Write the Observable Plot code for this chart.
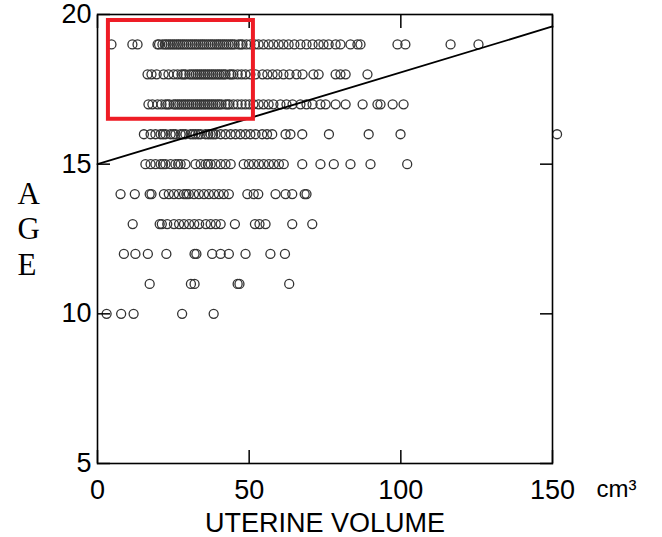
<!DOCTYPE html>
<html>
<head>
<meta charset="utf-8">
<script src="https://cdn.jsdelivr.net/npm/d3@7"></script>
<script src="https://cdn.jsdelivr.net/npm/@observablehq/plot@0.6"></script>
<style>
  body { margin: 0; background: #fff; }
  #chart svg { display: block; }
</style>
</head>
<body>
<div id="chart"></div>
<script>
// Uterine volume (cm³) readings, one array per age (years)
const vol19 = [4.6, 11.5, 13.2, 19.8, 20.3, 21.4, 22.2, 22.8, 23.5, 24.1, 24.8, 25.4, 26.1, 26.7, 27.3, 28.0, 28.6, 29.3, 30.0, 30.7, 31.3, 32.0, 32.6, 33.3, 34.0, 34.6, 35.2, 35.9, 36.6, 37.3, 37.9, 38.6, 39.3, 39.9, 40.5, 41.2, 41.8, 42.5, 43.2, 43.9, 44.5, 45.2, 46.5, 47.2, 47.8, 49.1, 50.4, 51.8, 53.1, 54.7, 56.4, 58.0, 59.7, 61.3, 63.0, 64.9, 66.9, 68.9, 70.9, 72.9, 74.5, 76.2, 78.5, 80.1, 83.4, 85.7, 86.7, 98.9, 101.5, 116.4, 125.6];
const vol18 = [16.5, 17.8, 19.5, 21.8, 23.4, 25.1, 26.4, 27.7, 28.4, 29.0, 30.3, 31.0, 31.7, 32.4, 33.0, 33.7, 34.3, 35.0, 35.6, 36.3, 36.9, 37.6, 38.2, 38.9, 39.6, 40.2, 40.9, 41.6, 42.2, 43.5, 44.1, 44.8, 46.2, 47.5, 48.8, 50.4, 52.1, 54.4, 56.0, 57.7, 59.3, 61.3, 63.3, 65.6, 67.6, 71.2, 72.9, 78.5, 80.1, 81.8, 89.0];
const vol17 = [16.8, 18.1, 19.8, 21.1, 22.4, 23.1, 23.7, 25.1, 25.7, 26.4, 27.0, 27.7, 28.4, 29.0, 29.7, 30.3, 31.0, 31.7, 32.4, 33.0, 33.7, 34.3, 35.0, 35.6, 36.3, 36.9, 37.6, 38.2, 38.9, 39.6, 40.2, 40.9, 42.2, 42.9, 43.5, 44.8, 46.2, 47.5, 48.8, 50.1, 51.4, 53.1, 54.7, 56.4, 58.0, 60.3, 62.3, 64.3, 66.9, 68.9, 70.9, 73.5, 75.2, 78.5, 81.8, 87.4, 92.3, 93.3, 97.3, 100.9];
const vol16 = [15.3, 17.5, 19.1, 20.8, 21.6, 22.4, 24.1, 25.0, 25.7, 27.4, 28.2, 29.0, 30.7, 31.5, 32.3, 33.2, 34.0, 35.6, 36.5, 37.3, 38.1, 38.9, 40.6, 42.2, 43.9, 45.5, 47.1, 48.8, 50.4, 52.1, 54.3, 55.9, 57.6, 62.0, 63.6, 67.5, 76.3, 89.4, 99.9, 151.5];
const vol15 = [15.8, 17.5, 19.1, 20.8, 21.6, 22.4, 24.1, 25.7, 26.6, 27.4, 29.0, 32.3, 34.0, 35.6, 36.4, 37.3, 38.9, 40.6, 42.2, 43.9, 48.2, 49.9, 51.5, 53.2, 54.8, 56.5, 58.1, 59.8, 61.4, 67.5, 73.5, 77.9, 83.4, 90.0, 102.1];
const vol14 = [7.6, 12.3, 17.2, 17.8, 21.9, 23.5, 25.2, 26.8, 28.5, 29.3, 30.1, 31.8, 33.4, 35.1, 36.7, 38.4, 40.0, 41.6, 43.3, 49.4, 51.5, 53.0, 58.7, 62.0, 64.2, 68.3, 68.9];
const vol13 = [11.6, 20.5, 21.2, 23.0, 25.2, 26.9, 28.5, 30.2, 31.9, 33.5, 35.7, 37.3, 39.0, 40.6, 45.3, 51.9, 53.4, 55.4, 64.2, 70.8];
const vol12 = [8.7, 12.5, 16.6, 22.7, 32.0, 32.6, 37.8, 40.6, 43.3, 48.8, 57.0, 61.8];
const vol11 = [17.2, 30.8, 32.0, 46.2, 46.8, 63.2];
const vol10 = [3.0, 7.8, 11.9, 27.9, 38.3];

const ages = [19, 18, 17, 16, 15, 14, 13, 12, 11, 10];
const volumesByAge = [vol19, vol18, vol17, vol16, vol15, vol14, vol13, vol12, vol11, vol10];

// Regression line end points
const fitX = [0, 150];
const fitY = [15.0, 19.6];

// Highlight box (red annotation)
const boxX = [3.6, 51.4];
const boxY = [16.5, 19.8];

const xTicks = [0, 50, 100, 150];
const yTicks = [5, 10, 15, 20];
const xTitle = "UTERINE VOLUME";
const yTitle = "A\nG\nE";
const unitText = "cm³";

const points = [];
ages.forEach((a, i) => volumesByAge[i].forEach(v => points.push({volume: v, age: a})));
const fit = fitX.map((x, i) => ({x, y: fitY[i]}));
const box = [{x1: boxX[0], x2: boxX[1], y1: boxY[0], y2: boxY[1]}];

const chart = Plot.plot({
  width: 662,
  height: 537,
  marginLeft: 97,
  marginRight: 110,
  marginTop: 14,
  marginBottom: 74,
  style: {fontFamily: "'Liberation Sans', Arial, sans-serif", color: "#000", background: "#fff"},
  x: {domain: [0, 150]},
  y: {domain: [5, 20]},
  marks: [
    Plot.dot(points, {x: "volume", y: "age", r: 4.5, stroke: "#333", strokeWidth: 1.3, fill: "none"}),
    Plot.line(fit, {x: "x", y: "y", stroke: "#000", strokeWidth: 1.8}),
    Plot.frame({stroke: "#000", strokeWidth: 1.6}),
    // inward ticks on all four sides
    Plot.axisX(xTicks, {anchor: "bottom", tickSize: -13, tickFormat: () => "", label: null, strokeWidth: 1.5}),
    Plot.axisX(xTicks, {anchor: "top", tickSize: -13, tickFormat: () => "", label: null, strokeWidth: 1.5}),
    Plot.axisY(yTicks, {anchor: "left", tickSize: -13, tickFormat: () => "", label: null, strokeWidth: 1.5}),
    Plot.axisY(yTicks, {anchor: "right", tickSize: -13, tickFormat: () => "", label: null, strokeWidth: 1.5}),
    // tick labels
    Plot.axisX(xTicks, {anchor: "bottom", tickSize: 0, tickPadding: 16, label: null, fontSize: 27}),
    Plot.axisY(yTicks, {anchor: "left", tickSize: 0, tickPadding: 6, label: null, fontSize: 27}),
    Plot.text([xTitle], {frameAnchor: "bottom", dy: 68, fontSize: 27}),
    Plot.text([unitText], {frameAnchor: "bottom-right", dx: 84, dy: 33, fontSize: 24}),
    Plot.text([yTitle], {frameAnchor: "left", dx: -80, dy: -11, fontSize: 31, lineHeight: 1.14, fontFamily: "'Liberation Serif', 'Times New Roman', serif"}),
    Plot.rect(box, {x1: "x1", x2: "x2", y1: "y1", y2: "y2", fill: "none", stroke: "#ee1c25", strokeWidth: 4})
  ]
});
document.getElementById("chart").appendChild(chart);
</script>
</body>
</html>
